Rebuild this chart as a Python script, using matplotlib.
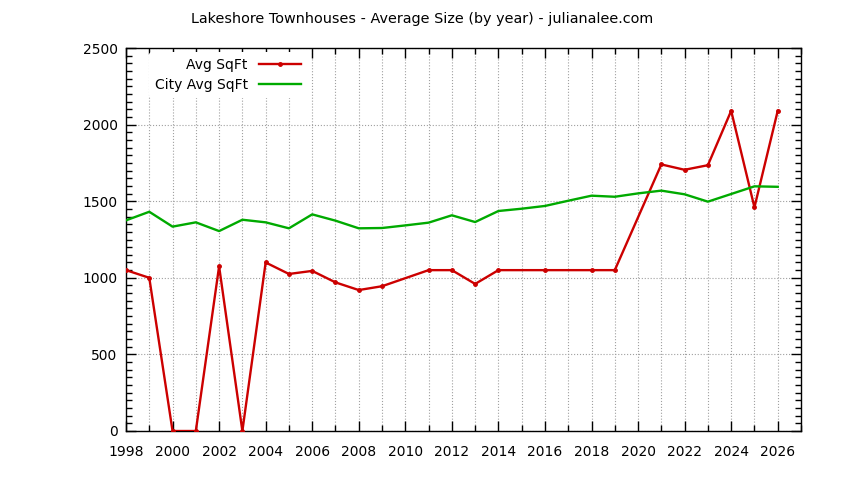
import numpy as np
import matplotlib.pyplot as plt
from matplotlib.ticker import MultipleLocator

# Avg SqFt (a few years have no sales, so no point)
anios = [1998, 1999, 2000, 2001, 2002, 2003, 2004, 2005, 2006, 2007, 2008, 2009,
         2011, 2012, 2013, 2014, 2016, 2018, 2019, 2021, 2022, 2023, 2024, 2025, 2026]
promedio = [1050, 1000, 0, 0, 1075, 0, 1100, 1025, 1045, 970, 920, 945,
            1050, 1050, 960, 1050, 1050, 1050, 1050, 1740, 1705, 1735, 2090, 1460, 2090]

# City Avg SqFt
anios_ciudad = list(range(1998, 2027))
promedio_ciudad = [1375, 1431, 1334, 1362, 1305, 1379, 1362, 1323, 1414, 1373, 1323, 1325,
                   1342, 1360, 1408, 1364, 1436, 1451, 1469, 1503, 1536, 1529, 1551, 1569,
                   1545, 1497, 1547, 1597, 1594]

plt.rcParams['font.family'] = ['DejaVu Sans']
fig = plt.figure(figsize=(8.44, 4.8), dpi=100)
ax = fig.add_axes([126/844, 1 - 431/480, 675/844, 383/480])

ax.plot(anios, promedio, color='#cc0000', linewidth=1.7, marker='o', markersize=2.5,
        label='Avg SqFt', zorder=3)
ax.plot(anios_ciudad, promedio_ciudad, color='#00aa00', linewidth=1.7,
        label='City Avg SqFt', zorder=3)

ax.set_xlim(1998, 2027)
ax.set_ylim(0, 2500)
ax.xaxis.set_major_locator(MultipleLocator(2))
ax.xaxis.set_minor_locator(MultipleLocator(1))
ax.yaxis.set_major_locator(MultipleLocator(500))
ax.yaxis.set_minor_locator(MultipleLocator(50))
ax.tick_params(which='both', direction='in', top=True, right=True, labelsize=10)
ax.tick_params(axis='x', pad=10)
ax.tick_params(axis='y', pad=6)
ax.tick_params(which='major', length=7, width=1)
ax.tick_params(which='minor', length=4, width=1)
ax.grid(True, which='major', axis='y', color='#a0a0a0', linestyle=':', linewidth=0.8)
ax.grid(True, which='both', axis='x', color='#a0a0a0', linestyle=':', linewidth=0.8)
for s in ax.spines.values():
    s.set_linewidth(1)

leg = ax.legend(loc='upper left', bbox_to_anchor=(0.028, 1.0), markerfirst=False,
                frameon=True, fontsize=10, handlelength=3.0, borderaxespad=0.3,
                labelspacing=0.45)
leg.get_frame().set_edgecolor('none')
leg.get_frame().set_facecolor('white')
leg.get_frame().set_alpha(1)

fig.text(0.5, 1 - 19/480, 'Lakeshore Townhouses - Average Size (by year) - julianalee.com',
         ha='center', va='center', fontsize=10.4)

plt.savefig('out.png', dpi=100)
